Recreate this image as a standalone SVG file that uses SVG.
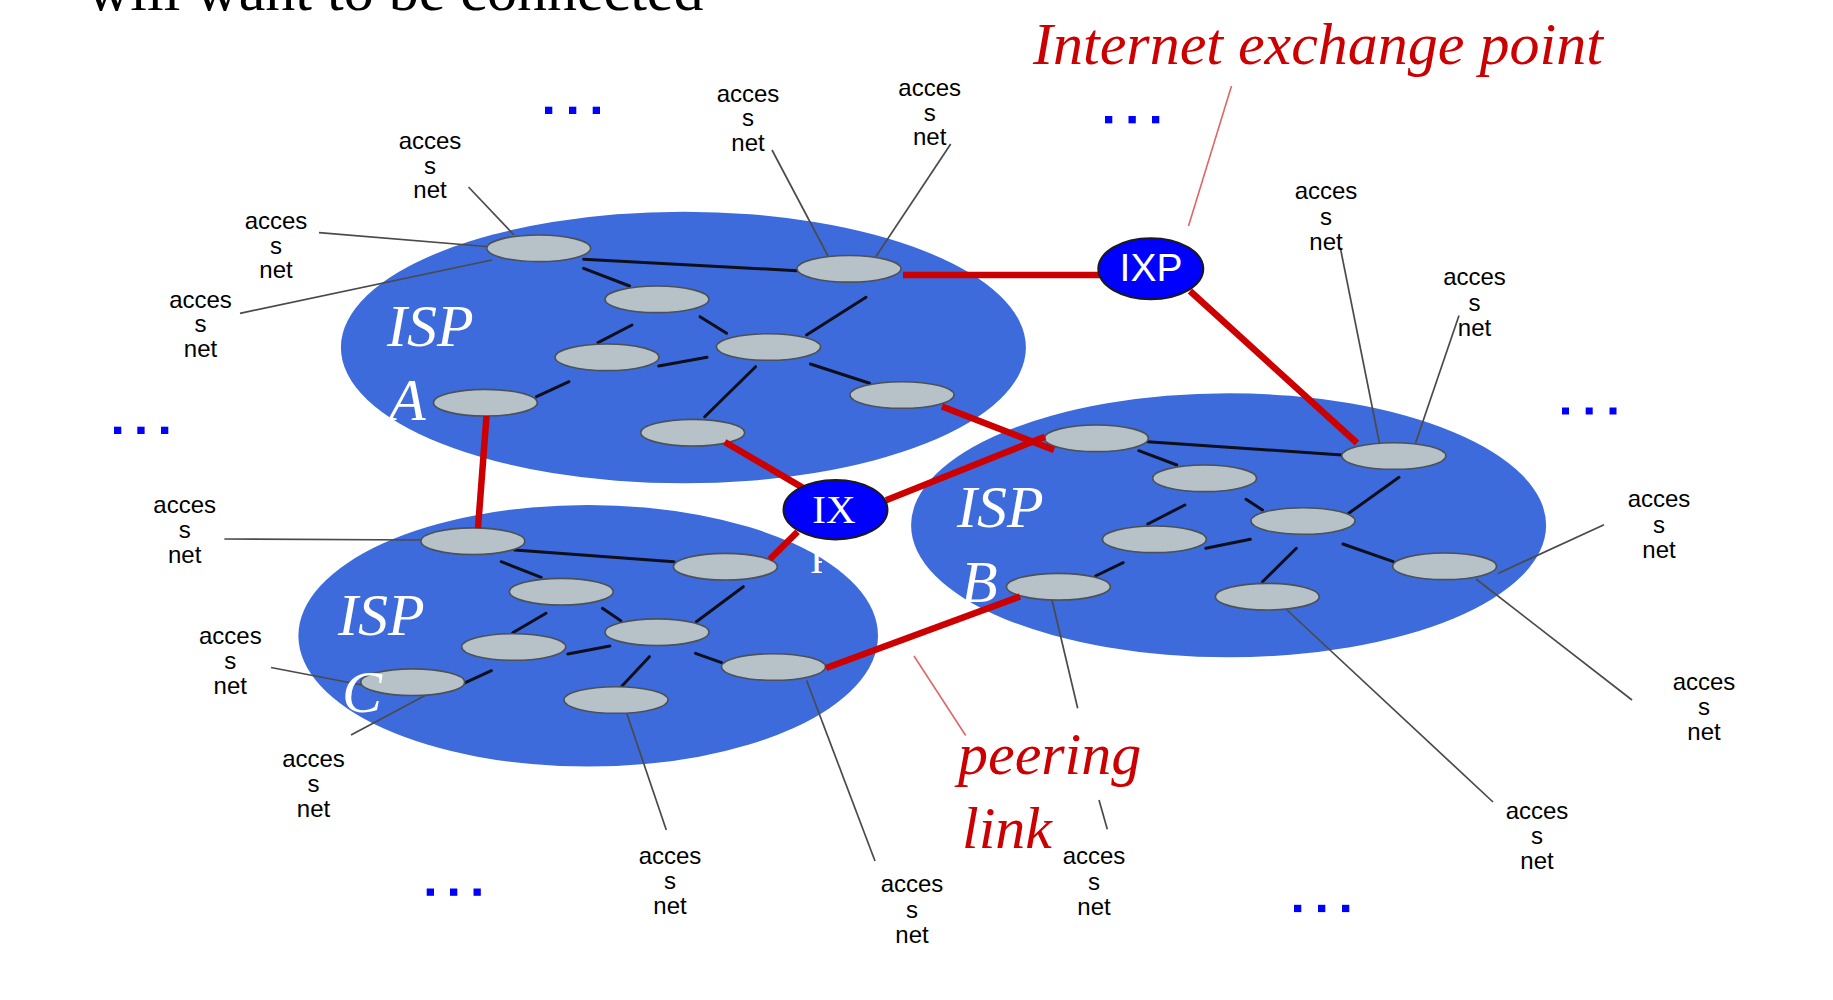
<svg xmlns="http://www.w3.org/2000/svg" width="1833" height="1000" viewBox="0 0 1833 1000">
<style>
.isp{fill:#3d6bdc}
.rt{fill:#b7c1c8;stroke:#4a5159;stroke-width:1.6}
.lk{stroke:#0d0f1c;stroke-width:3;stroke-linecap:round}
.pl{stroke:#cc0000;stroke-width:6.5}
.ac{stroke:#4a4a4a;stroke-width:1.7}
.ld{stroke:#e06666;stroke-width:1.6}
.lbl{font-family:"Liberation Sans",Arial,sans-serif;font-size:24px;fill:#000;text-anchor:middle}
.ispt{font-family:"Liberation Serif","Times New Roman",serif;font-style:italic;font-size:60px;fill:#fff}
.red{font-family:"Liberation Serif","Times New Roman",serif;font-style:italic;font-size:60px;fill:#cc0000}
.dot{fill:#0000ff}
.ixn{fill:#0000ff;stroke:#1a1a1a;stroke-width:2}
</style>
<defs>
<clipPath id="pclip"><rect x="800" y="554" width="22" height="30"/></clipPath>
</defs>
<rect width="1833" height="1000" fill="#fff"/>
<text x="87" y="10" font-family="Liberation Serif,'Times New Roman',serif" font-size="60" fill="#000">will want to be connected</text>

<g id="isps">
<ellipse id="ispA" class="isp" cx="683.4" cy="347.5" rx="342.5" ry="135.8"/>
<ellipse id="ispB" class="isp" cx="1228.6" cy="525.3" rx="317.5" ry="132"/>
<ellipse id="ispC" class="isp" cx="588.2" cy="635.8" rx="289.8" ry="130.8"/>
</g>

<g id="connectors">
<!-- ISP A internal links -->
<line class="lk" x1="583.6" y1="259.3" x2="796.8" y2="270.7"/>
<line class="lk" x1="583.6" y1="268.3" x2="629.6" y2="286"/>
<line class="lk" x1="700" y1="316.7" x2="726.6" y2="333.3"/>
<line class="lk" x1="632" y1="325" x2="598" y2="342.7"/>
<line class="lk" x1="658.7" y1="366" x2="707" y2="357.3"/>
<line class="lk" x1="806.5" y1="335" x2="866" y2="297.3"/>
<line class="lk" x1="755.6" y1="366.7" x2="704.7" y2="416.7"/>
<line class="lk" x1="810.4" y1="364" x2="869.6" y2="383.3"/>
<line class="lk" x1="536.5" y1="396.7" x2="569" y2="381.7"/>
<!-- ISP B internal links -->
<line class="lk" x1="1147.8" y1="441.7" x2="1342" y2="455"/>
<line class="lk" x1="1138.8" y1="450.7" x2="1176.8" y2="465"/>
<line class="lk" x1="1246" y1="499.3" x2="1262.5" y2="510"/>
<line class="lk" x1="1184.8" y1="505" x2="1147.8" y2="524"/>
<line class="lk" x1="1205.8" y1="548.3" x2="1250.4" y2="539.3"/>
<line class="lk" x1="1348.7" y1="513.3" x2="1399" y2="477.3"/>
<line class="lk" x1="1296.4" y1="548.3" x2="1262.5" y2="581.7"/>
<line class="lk" x1="1342.9" y1="544" x2="1393.3" y2="561.7"/>
<line class="lk" x1="1095.5" y1="576" x2="1123.2" y2="562.7"/>
<!-- ISP C internal links -->
<line class="lk" x1="514.7" y1="550" x2="673.9" y2="561.7"/>
<line class="lk" x1="501.2" y1="561.7" x2="541.2" y2="577.3"/>
<line class="lk" x1="602.4" y1="608.3" x2="620.8" y2="620.7"/>
<line class="lk" x1="546" y1="613.3" x2="512.7" y2="632.7"/>
<line class="lk" x1="567.8" y1="654" x2="609.8" y2="646"/>
<line class="lk" x1="696.3" y1="621.7" x2="743.3" y2="586.7"/>
<line class="lk" x1="649.4" y1="656.7" x2="622" y2="686"/>
<line class="lk" x1="695.5" y1="653.3" x2="721.6" y2="662.7"/>
<line class="lk" x1="463.7" y1="683.3" x2="491.4" y2="670.7"/>
<!-- access net connectors -->
<line class="ac" x1="468.5" y1="187" x2="514" y2="235"/>
<line class="ac" x1="319" y1="232.7" x2="486" y2="246.5"/>
<line class="ac" x1="240" y1="313.3" x2="492" y2="260"/>
<line class="ac" x1="772" y1="150" x2="828" y2="256"/>
<line class="ac" x1="950.7" y1="144" x2="876" y2="256.5"/>
<line class="ac" x1="1340.3" y1="247.7" x2="1379.4" y2="443"/>
<line class="ac" x1="1459" y1="315.5" x2="1415.4" y2="443.5"/>
<line class="ac" x1="1604" y1="524.7" x2="1498" y2="573.4"/>
<line class="ac" x1="1632" y1="700" x2="1476" y2="579"/>
<line class="ac" x1="1493" y1="802" x2="1287" y2="610"/>
<line class="ac" x1="1052" y1="600" x2="1077.7" y2="708.3"/>
<line class="ac" x1="1099" y1="800" x2="1107.3" y2="829.3"/>
<line class="ac" x1="806.6" y1="680.5" x2="875" y2="861"/>
<line class="ac" x1="626.6" y1="713" x2="666.3" y2="830"/>
<line class="ac" x1="351" y1="735" x2="426" y2="695"/>
<line class="ac" x1="271" y1="667.5" x2="362" y2="685"/>
<line class="ac" x1="224.4" y1="539" x2="421" y2="540"/>
<!-- leader lines -->
<line class="ld" x1="1231.5" y1="86" x2="1188.5" y2="226"/>
<line class="ld" x1="914" y1="656" x2="965.7" y2="735.5"/>
</g>

<g id="routersA">
<ellipse id="A1" class="rt" cx="538.7" cy="248.3" rx="52" ry="13.3"/>
<ellipse id="A2" class="rt" cx="849" cy="268.8" rx="52" ry="13.3"/>
<ellipse id="A3" class="rt" cx="657" cy="299.3" rx="52" ry="13.3"/>
<ellipse id="A4" class="rt" cx="768.5" cy="347" rx="52" ry="13.3"/>
<ellipse id="A5" class="rt" cx="607" cy="357.3" rx="52" ry="13.3"/>
<ellipse id="A6" class="rt" cx="485.4" cy="402.7" rx="52" ry="13.3"/>
<ellipse id="A7" class="rt" cx="902" cy="395" rx="52" ry="13.3"/>
<ellipse id="A8" class="rt" cx="692.7" cy="432.7" rx="52" ry="13.3"/>
</g>
<g id="routersB">
<ellipse id="B1" class="rt" cx="1096.4" cy="438.3" rx="52" ry="13.3"/>
<ellipse id="B2" class="rt" cx="1393.8" cy="456" rx="52" ry="13.3"/>
<ellipse id="B3" class="rt" cx="1204.6" cy="478.3" rx="52" ry="13.3"/>
<ellipse id="B4" class="rt" cx="1303" cy="521" rx="52" ry="13.3"/>
<ellipse id="B5" class="rt" cx="1154.4" cy="539.3" rx="52" ry="13.3"/>
<ellipse id="B6" class="rt" cx="1444.6" cy="566.3" rx="52" ry="13.3"/>
<ellipse id="B7" class="rt" cx="1058.4" cy="586.7" rx="52" ry="13.3"/>
<ellipse id="B8" class="rt" cx="1267.3" cy="596.7" rx="52" ry="13.3"/>
</g>
<g id="routersC">
<ellipse id="C1" class="rt" cx="472.9" cy="541.2" rx="52" ry="13.3"/>
<ellipse id="C2" class="rt" cx="725.4" cy="566.7" rx="52" ry="13.3"/>
<ellipse id="C3" class="rt" cx="561.3" cy="591.7" rx="52" ry="13.3"/>
<ellipse id="C4" class="rt" cx="657" cy="632.2" rx="52" ry="13.3"/>
<ellipse id="C5" class="rt" cx="513.7" cy="647" rx="52" ry="13.3"/>
<ellipse id="C6" class="rt" cx="412.7" cy="682.2" rx="52" ry="13.3"/>
<ellipse id="C7" class="rt" cx="773.5" cy="667" rx="52" ry="13.3"/>
<ellipse id="C8" class="rt" cx="616" cy="700" rx="52" ry="13.3"/>
</g>

<g id="peering-links">
<line class="pl" x1="903" y1="275" x2="1100" y2="275"/>
<line class="pl" x1="1190" y1="291" x2="1357" y2="443"/>
<line class="pl" x1="486.5" y1="416" x2="478" y2="528"/>
<line class="pl" x1="724.8" y1="442" x2="804.3" y2="488.6"/>
<line class="pl" x1="942" y1="406.5" x2="1054" y2="450"/>
<line class="pl" x1="886" y1="500.3" x2="1045" y2="436.7"/>
<line class="pl" x1="797.6" y1="531.7" x2="769.8" y2="559.3"/>
<line class="pl" x1="826" y1="668" x2="1020" y2="596.5"/>
</g>

<g id="IXP">
<ellipse class="ixn" cx="1150.8" cy="268.8" rx="52.5" ry="30.5"/>
<text x="1151" y="281" font-family="Liberation Sans,Arial,sans-serif" font-size="39" fill="#fff" text-anchor="middle">IXP</text>
</g>
<g id="IX">
<ellipse class="ixn" cx="835.5" cy="509.7" rx="52" ry="29.7"/>
<text x="834" y="523" font-family="Liberation Serif,'Times New Roman',serif" font-size="41" fill="#fff" text-anchor="middle">IX</text>
<text x="810" y="573" font-family="Liberation Serif,'Times New Roman',serif" font-size="41" fill="#fff" clip-path="url(#pclip)">P</text>
</g>

<g id="isp-labels">
<text class="ispt" x="387" y="346">ISP</text>
<text class="ispt" x="389" y="420">A</text>
<text class="ispt" x="957" y="527">ISP</text>
<text class="ispt" x="961" y="602">B</text>
<text class="ispt" x="338" y="635">ISP</text>
<text class="ispt" x="342" y="712">C</text>
</g>

<g id="access-labels">
<text class="lbl" x="430" y="149"><tspan x="430">acces</tspan><tspan x="430" dy="24.7">s</tspan><tspan x="430" dy="24.7">net</tspan></text>
<text class="lbl" x="276" y="229"><tspan x="276">acces</tspan><tspan x="276" dy="24.7">s</tspan><tspan x="276" dy="24.7">net</tspan></text>
<text class="lbl" x="200.5" y="307.5"><tspan x="200.5">acces</tspan><tspan x="200.5" dy="24.7">s</tspan><tspan x="200.5" dy="24.7">net</tspan></text>
<text class="lbl" x="748" y="101.5"><tspan x="748">acces</tspan><tspan x="748" dy="24.5">s</tspan><tspan x="748" dy="24.5">net</tspan></text>
<text class="lbl" x="929.7" y="96"><tspan x="929.7">acces</tspan><tspan x="929.7" dy="24.5">s</tspan><tspan x="929.7" dy="24.5">net</tspan></text>
<text class="lbl" x="1326" y="199"><tspan x="1326">acces</tspan><tspan x="1326" dy="25.5">s</tspan><tspan x="1326" dy="25.5">net</tspan></text>
<text class="lbl" x="1474.5" y="285"><tspan x="1474.5">acces</tspan><tspan x="1474.5" dy="25.5">s</tspan><tspan x="1474.5" dy="25.5">net</tspan></text>
<text class="lbl" x="1659" y="507"><tspan x="1659">acces</tspan><tspan x="1659" dy="25.5">s</tspan><tspan x="1659" dy="25.5">net</tspan></text>
<text class="lbl" x="1704" y="689.5"><tspan x="1704">acces</tspan><tspan x="1704" dy="25">s</tspan><tspan x="1704" dy="25">net</tspan></text>
<text class="lbl" x="1537" y="819"><tspan x="1537">acces</tspan><tspan x="1537" dy="25">s</tspan><tspan x="1537" dy="25">net</tspan></text>
<text class="lbl" x="1094" y="864"><tspan x="1094">acces</tspan><tspan x="1094" dy="25.5">s</tspan><tspan x="1094" dy="25.5">net</tspan></text>
<text class="lbl" x="912" y="892"><tspan x="912">acces</tspan><tspan x="912" dy="25.5">s</tspan><tspan x="912" dy="25.5">net</tspan></text>
<text class="lbl" x="670" y="863.5"><tspan x="670">acces</tspan><tspan x="670" dy="25">s</tspan><tspan x="670" dy="25">net</tspan></text>
<text class="lbl" x="313.5" y="767"><tspan x="313.5">acces</tspan><tspan x="313.5" dy="25">s</tspan><tspan x="313.5" dy="25">net</tspan></text>
<text class="lbl" x="230.3" y="644"><tspan x="230.3">acces</tspan><tspan x="230.3" dy="25">s</tspan><tspan x="230.3" dy="25">net</tspan></text>
<text class="lbl" x="184.7" y="513"><tspan x="184.7">acces</tspan><tspan x="184.7" dy="25">s</tspan><tspan x="184.7" dy="25">net</tspan></text>
</g>

<g id="callouts">
<text class="red" x="1033" y="64">Internet exchange point</text>
<text class="red" x="958" y="774">peering</text>
<text class="red" x="962" y="848">link</text>
</g>

<g id="ellipsis-dots">
<rect class="dot" x="545" y="106.7" width="7.3" height="7.3"/><rect class="dot" x="569" y="106.7" width="7.3" height="7.3"/><rect class="dot" x="592.7" y="106.7" width="7.3" height="7.3"/>
<rect class="dot" x="1105" y="116" width="7.3" height="7.3"/><rect class="dot" x="1128.5" y="116" width="7.3" height="7.3"/><rect class="dot" x="1152" y="116" width="7.3" height="7.3"/>
<rect class="dot" x="114" y="426.7" width="7.3" height="7.3"/><rect class="dot" x="137.3" y="426.7" width="7.3" height="7.3"/><rect class="dot" x="161" y="426.7" width="7.3" height="7.3"/>
<rect class="dot" x="1562" y="407.5" width="7" height="7"/><rect class="dot" x="1585.7" y="407.5" width="7" height="7"/><rect class="dot" x="1609.5" y="407.5" width="7" height="7"/>
<rect class="dot" x="426.7" y="888.5" width="7.3" height="7.3"/><rect class="dot" x="450" y="888.5" width="7.3" height="7.3"/><rect class="dot" x="473.5" y="888.5" width="7.3" height="7.3"/>
<rect class="dot" x="1294" y="904.8" width="7.3" height="7.3"/><rect class="dot" x="1318" y="904.8" width="7.3" height="7.3"/><rect class="dot" x="1342" y="904.8" width="7.3" height="7.3"/>
</g>
</svg>
